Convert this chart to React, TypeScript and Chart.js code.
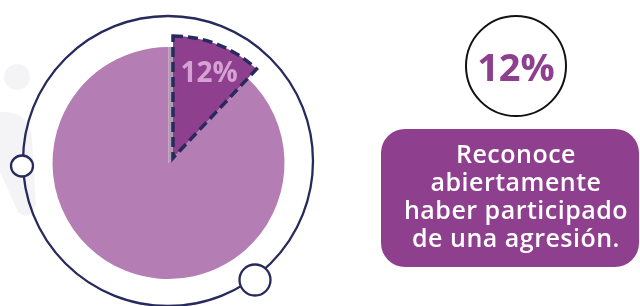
import React, { useEffect, useRef } from 'react';
import { Chart, registerables } from 'chart.js';

Chart.register(...registerables);

// ---- data ----
const categories = ['Reconoce abiertamente haber participado de una agresión', 'Resto'];
const values = [12, 88];
const sliceLabel = '12%';
const bigValueLabel = '12%';
const boxLines = ['Reconoce', 'abiertamente', 'haber participado', 'de una agresión.'];

const NAVY = '#262A5C';
const DARK = '#8E3F8E';
const LIGHT = '#B47DB3';
const GREYSLICE = '#ACA0AC';
const FONT = '"Open Sans", "Noto Sans", sans-serif';

const decorPlugin = {
  id: 'decor',
  beforeDatasetsDraw(chart: any) {
    const ctx = chart.ctx;
    ctx.save();
    // faint background figure
    ctx.fillStyle = '#F4F4F6';
    ctx.beginPath();
    ctx.arc(17, 77, 13, 0, Math.PI * 2);
    ctx.fill();
    ctx.beginPath();
    ctx.moveTo(0, 112);
    ctx.quadraticCurveTo(30, 110, 32, 140);
    ctx.lineTo(36, 205);
    ctx.quadraticCurveTo(30, 222, 18, 212);
    ctx.lineTo(0, 172);
    ctx.closePath();
    ctx.fill();
    // ring
    ctx.strokeStyle = NAVY;
    ctx.lineWidth = 2.3;
    ctx.beginPath();
    ctx.arc(168, 161, 145, 0, Math.PI * 2);
    ctx.stroke();
    // small knobs
    ctx.fillStyle = '#FFFFFF';
    ctx.lineWidth = 2.3;
    ctx.beginPath();
    ctx.ellipse(22, 166, 11, 10.5, 0, 0, Math.PI * 2);
    ctx.fill();
    ctx.stroke();
    ctx.beginPath();
    ctx.arc(255, 280, 15.5, 0, Math.PI * 2);
    ctx.fill();
    ctx.stroke();
    ctx.restore();
  },
};

const sliceLabelPlugin = {
  id: 'sliceLabel',
  afterDatasetsDraw(chart: any) {
    const meta = chart.getDatasetMeta(0);
    const arc = meta.data[0];
    if (!arc) return;
    const { x, y, startAngle, endAngle, outerRadius } = arc.getProps(
      ['x', 'y', 'startAngle', 'endAngle', 'outerRadius'],
      true
    );
    const mid = (startAngle + endAngle) / 2;
    const r = outerRadius * 0.76;
    const ctx = chart.ctx;
    ctx.save();
    ctx.fillStyle = '#D6A2D3';
    ctx.font = `700 28px ${FONT}`;
    ctx.textAlign = 'center';
    ctx.textBaseline = 'middle';
    ctx.fillText(sliceLabel, x + Math.cos(mid) * r + 2, y + Math.sin(mid) * r + 2);
    ctx.restore();
  },
};

export default function App() {
  const baseRef = useRef<HTMLCanvasElement>(null);
  const topRef = useRef<HTMLCanvasElement>(null);

  useEffect(() => {
    document.body.style.margin = '0';
    const common = {
      animation: false as const,
      responsive: false,
      events: [] as any[],
      plugins: { legend: { display: false }, tooltip: { enabled: false } },
    };
    const base = new Chart(baseRef.current!, {
      type: 'pie',
      data: {
        labels: categories,
        datasets: [
          {
            data: values,
            backgroundColor: [GREYSLICE, LIGHT],
            borderWidth: 0,
          },
        ],
      },
      options: {
        ...common,
        radius: 116,
        layout: { padding: { left: 0, right: 303, top: 20, bottom: 0 } },
      } as any,
      plugins: [decorPlugin],
    });
    const top = new Chart(topRef.current!, {
      type: 'pie',
      data: {
        labels: categories,
        datasets: [
          {
            data: values,
            backgroundColor: [DARK, 'rgba(0,0,0,0)'],
            borderColor: [NAVY, 'rgba(0,0,0,0)'],
            borderWidth: [3.5, 0],
            borderDash: [10, 5],
            borderJoinStyle: 'miter',
          } as any,
        ],
      },
      options: {
        ...common,
        radius: 122,
        layout: { padding: { left: 0, right: 294, top: 10, bottom: 0 } },
      } as any,
      plugins: [sliceLabelPlugin],
    });
    return () => {
      base.destroy();
      top.destroy();
    };
  }, []);

  return (
    <div
      style={{
        position: 'absolute',
        left: 0,
        top: 0,
        width: 640,
        height: 306,
        overflow: 'hidden',
        background: '#FFFFFF',
        fontFamily: FONT,
      }}
    >
      <canvas ref={baseRef} width={640} height={306} style={{ position: 'absolute', left: 0, top: 0 }} />
      <canvas ref={topRef} width={640} height={306} style={{ position: 'absolute', left: 0, top: 0 }} />
      <div
        style={{
          position: 'absolute',
          left: 465,
          top: 15,
          width: 102,
          height: 102,
          boxSizing: 'border-box',
          border: '2px solid #111111',
          borderRadius: '50%',
          display: 'flex',
          alignItems: 'center',
          justifyContent: 'center',
          color: DARK,
          fontWeight: 700,
          fontSize: 38,
          lineHeight: '1',
        }}
      >
        {bigValueLabel}
      </div>
      <div
        style={{
          position: 'absolute',
          left: 381,
          top: 129,
          width: 258,
          height: 138,
          borderRadius: 24,
          background: DARK,
        }}
      />
      <div
        style={{
          position: 'absolute',
          left: 386,
          top: 139,
          width: 260,
          textAlign: 'center',
          color: '#FFFFFF',
          fontWeight: 600,
          fontSize: 25,
          letterSpacing: 0.5,
          lineHeight: '28px',
          whiteSpace: 'nowrap',
        }}
      >
        {boxLines.map((l) => (
          <div key={l}>{l}</div>
        ))}
      </div>
    </div>
  );
}
